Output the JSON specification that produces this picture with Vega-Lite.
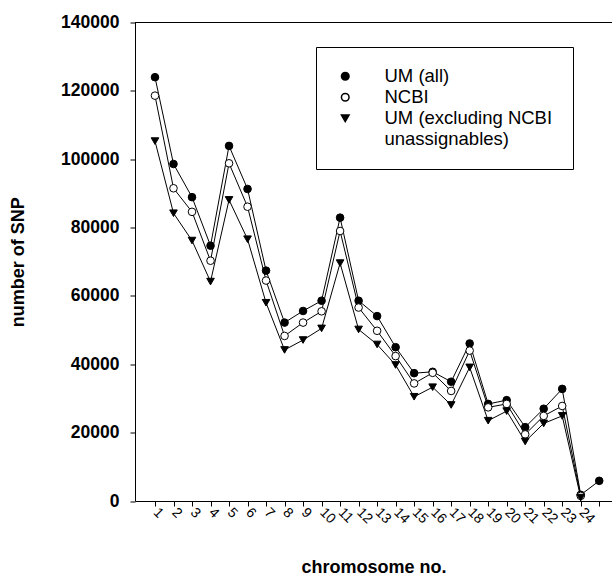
{
  "$schema": "https://vega.github.io/schema/vega-lite/v6.json",
  "width": 477,
  "height": 478.5,
  "autosize": {"type": "none"},
  "padding": {"left": 135, "top": 22.5, "right": 0, "bottom": 76},
  "background": "white",
  "config": {
    "view": {"stroke": null},
    "font": "Liberation Sans",
    "axis": {"domainColor": "black", "tickColor": "black", "labelColor": "black", "titleColor": "black", "grid": false, "tickSize": 5, "domainWidth": 1, "tickWidth": 1},
    "legend": {"orient": "none", "legendX": 181, "legendY": 24.5, "title": null, "strokeColor": "black", "fillColor": "white", "padding": 20,
      "labelFont": "Liberation Sans", "labelFontSize": 18.5, "labelColor": "black", "labelLimit": 400, "symbolSize": 58, "rowPadding": 2, "labelOffset": 30}
  },
  "data": {"values": [
    {"chr": 1, "series": "UM (all)", "snp": 124000},
    {"chr": 2, "series": "UM (all)", "snp": 98600},
    {"chr": 3, "series": "UM (all)", "snp": 88900},
    {"chr": 4, "series": "UM (all)", "snp": 74700},
    {"chr": 5, "series": "UM (all)", "snp": 103900},
    {"chr": 6, "series": "UM (all)", "snp": 91300},
    {"chr": 7, "series": "UM (all)", "snp": 67400},
    {"chr": 8, "series": "UM (all)", "snp": 52200},
    {"chr": 9, "series": "UM (all)", "snp": 55600},
    {"chr": 10, "series": "UM (all)", "snp": 58600},
    {"chr": 11, "series": "UM (all)", "snp": 82900},
    {"chr": 12, "series": "UM (all)", "snp": 58600},
    {"chr": 13, "series": "UM (all)", "snp": 54100},
    {"chr": 14, "series": "UM (all)", "snp": 45000},
    {"chr": 15, "series": "UM (all)", "snp": 37400},
    {"chr": 16, "series": "UM (all)", "snp": 37800},
    {"chr": 17, "series": "UM (all)", "snp": 34900},
    {"chr": 18, "series": "UM (all)", "snp": 46100},
    {"chr": 19, "series": "UM (all)", "snp": 28400},
    {"chr": 20, "series": "UM (all)", "snp": 29500},
    {"chr": 21, "series": "UM (all)", "snp": 21600},
    {"chr": 22, "series": "UM (all)", "snp": 27000},
    {"chr": 23, "series": "UM (all)", "snp": 32800},
    {"chr": 24, "series": "UM (all)", "snp": 1800},
    {"chr": 25, "series": "UM (all)", "snp": 5900},
    {"chr": 1, "series": "NCBI", "snp": 118600},
    {"chr": 2, "series": "NCBI", "snp": 91500},
    {"chr": 3, "series": "NCBI", "snp": 84600},
    {"chr": 4, "series": "NCBI", "snp": 70300},
    {"chr": 5, "series": "NCBI", "snp": 98800},
    {"chr": 6, "series": "NCBI", "snp": 86100},
    {"chr": 7, "series": "NCBI", "snp": 64500},
    {"chr": 8, "series": "NCBI", "snp": 48300},
    {"chr": 9, "series": "NCBI", "snp": 52200},
    {"chr": 10, "series": "NCBI", "snp": 55500},
    {"chr": 11, "series": "NCBI", "snp": 79000},
    {"chr": 12, "series": "NCBI", "snp": 56600},
    {"chr": 13, "series": "NCBI", "snp": 49800},
    {"chr": 14, "series": "NCBI", "snp": 42400},
    {"chr": 15, "series": "NCBI", "snp": 34400},
    {"chr": 16, "series": "NCBI", "snp": 37500},
    {"chr": 17, "series": "NCBI", "snp": 32200},
    {"chr": 18, "series": "NCBI", "snp": 44000},
    {"chr": 19, "series": "NCBI", "snp": 27400},
    {"chr": 20, "series": "NCBI", "snp": 28400},
    {"chr": 21, "series": "NCBI", "snp": 19500},
    {"chr": 22, "series": "NCBI", "snp": 24900},
    {"chr": 23, "series": "NCBI", "snp": 27800},
    {"chr": 24, "series": "NCBI", "snp": 1500},
    {"chr": 1, "series": "UM (excluding NCBI unassignables)", "snp": 105300},
    {"chr": 2, "series": "UM (excluding NCBI unassignables)", "snp": 84200},
    {"chr": 3, "series": "UM (excluding NCBI unassignables)", "snp": 76200},
    {"chr": 4, "series": "UM (excluding NCBI unassignables)", "snp": 64200},
    {"chr": 5, "series": "UM (excluding NCBI unassignables)", "snp": 88100},
    {"chr": 6, "series": "UM (excluding NCBI unassignables)", "snp": 76600},
    {"chr": 7, "series": "UM (excluding NCBI unassignables)", "snp": 58000},
    {"chr": 8, "series": "UM (excluding NCBI unassignables)", "snp": 44200},
    {"chr": 9, "series": "UM (excluding NCBI unassignables)", "snp": 47100},
    {"chr": 10, "series": "UM (excluding NCBI unassignables)", "snp": 50500},
    {"chr": 11, "series": "UM (excluding NCBI unassignables)", "snp": 69600},
    {"chr": 12, "series": "UM (excluding NCBI unassignables)", "snp": 50200},
    {"chr": 13, "series": "UM (excluding NCBI unassignables)", "snp": 45800},
    {"chr": 14, "series": "UM (excluding NCBI unassignables)", "snp": 39800},
    {"chr": 15, "series": "UM (excluding NCBI unassignables)", "snp": 30500},
    {"chr": 16, "series": "UM (excluding NCBI unassignables)", "snp": 33300},
    {"chr": 17, "series": "UM (excluding NCBI unassignables)", "snp": 28100},
    {"chr": 18, "series": "UM (excluding NCBI unassignables)", "snp": 39100},
    {"chr": 19, "series": "UM (excluding NCBI unassignables)", "snp": 23500},
    {"chr": 20, "series": "UM (excluding NCBI unassignables)", "snp": 26300},
    {"chr": 21, "series": "UM (excluding NCBI unassignables)", "snp": 17400},
    {"chr": 22, "series": "UM (excluding NCBI unassignables)", "snp": 22700},
    {"chr": 23, "series": "UM (excluding NCBI unassignables)", "snp": 24900},
    {"chr": 24, "series": "UM (excluding NCBI unassignables)", "snp": 1000}
  ]},
  "layer": [
    {
      "data": {"values": [{}]},
      "mark": {"type": "rule", "color": "black", "strokeWidth": 1},
      "encoding": {"y": {"datum": 140000, "type": "quantitative"}}
    },
    {
      "mark": {"type": "line", "color": "black", "strokeWidth": 1},
      "encoding": {
        "x": {"field": "chr", "type": "quantitative", "scale": {"domain": [-0.08, 25.69], "nice": false, "zero": false},
          "axis": {"values": [1,2,3,4,5,6,7,8,9,10,11,12,13,14,15,16,17,18,19,20,21,22,23,24,25], "tickCount": 40, "format": "d",
            "labelExpr": "datum.value <= 24 ? datum.label : ''",
            "labelAngle": 45, "labelAlign": "left", "labelBaseline": "middle", "labelPadding": 4,
            "labelFont": "Liberation Sans", "labelFontSize": 14, "labelOverlap": false, "labelBound": false,
            "title": "chromosome no.", "titleFont": "Liberation Sans", "titleFontSize": 18, "titleFontWeight": "bold", "titlePadding": 33}},
        "y": {"field": "snp", "type": "quantitative", "scale": {"domain": [0, 140000], "nice": false},
          "axis": {"values": [0, 20000, 40000, 60000, 80000, 100000, 120000, 140000], "format": "d", "tickCount": 20,
            "labelFont": "Liberation Sans", "labelFontSize": 17.5, "labelFontWeight": "bold", "labelPadding": 11,
            "title": "number of SNP", "titleFont": "Liberation Sans", "titleFontSize": 18, "titleFontWeight": "bold", "titlePadding": 33}},
        "detail": {"field": "series"}
      }
    },
    {
      "mark": {"type": "point", "filled": true, "opacity": 1, "stroke": "black", "strokeWidth": 1, "size": 58},
      "encoding": {
        "x": {"field": "chr", "type": "quantitative"},
        "y": {"field": "snp", "type": "quantitative"},
        "shape": {"field": "series", "type": "nominal",
          "scale": {"domain": ["UM (all)", "NCBI", "UM (excluding NCBI unassignables)"], "range": ["circle", "circle", "triangle-down"]},
          "legend": {"labelExpr": "datum.label == 'UM (excluding NCBI unassignables)' ? ['UM (excluding NCBI', 'unassignables)'] : datum.label"}},
        "fill": {"field": "series", "type": "nominal",
          "scale": {"domain": ["UM (all)", "NCBI", "UM (excluding NCBI unassignables)"], "range": ["black", "white", "black"]},
          "legend": {"labelExpr": "datum.label == 'UM (excluding NCBI unassignables)' ? ['UM (excluding NCBI', 'unassignables)'] : datum.label"}}
      }
    }
  ]
}
